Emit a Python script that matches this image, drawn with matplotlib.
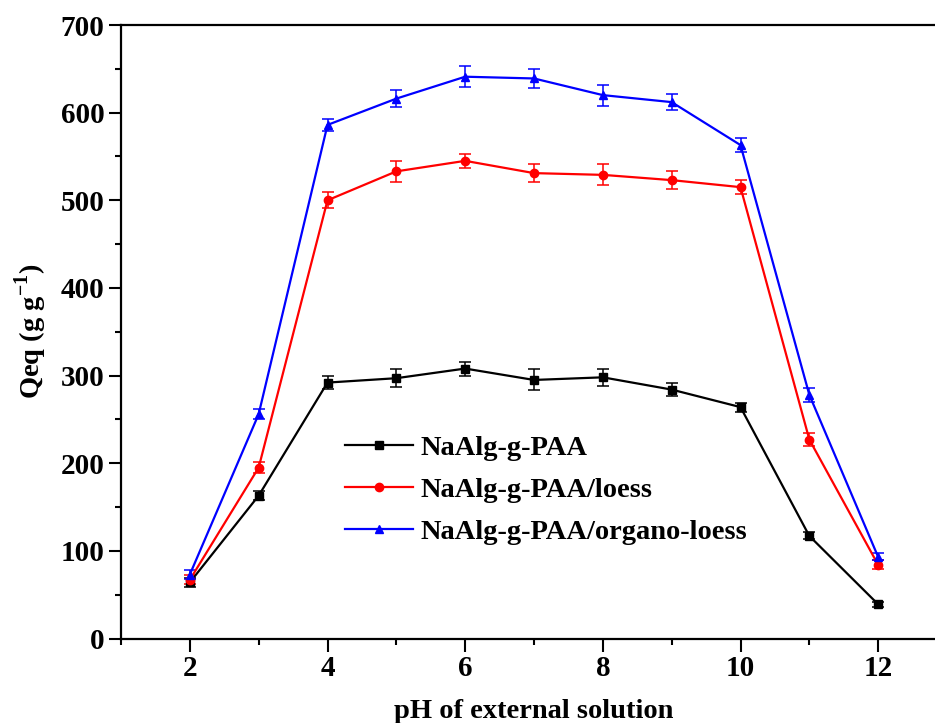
import numpy as np
import matplotlib.pyplot as plt
from matplotlib.lines import Line2D
from matplotlib.ticker import MultipleLocator

# values
ph = [2, 3, 4, 5, 6, 7, 8, 9, 10, 11, 12]
paa = [64, 163, 292, 297, 308, 295, 298, 284, 264, 117, 39]
paa_err = [5, 5, 7, 10, 8, 12, 10, 7, 5, 4, 3]
loess = [67, 195, 500, 533, 545, 531, 529, 523, 515, 227, 84]
loess_err = [5, 6, 9, 12, 8, 10, 12, 10, 8, 7, 5]
organo = [73, 256, 586, 616, 641, 639, 620, 612, 563, 278, 93]
organo_err = [5, 6, 7, 10, 12, 11, 12, 9, 8, 8, 4]

labels = ['NaAlg-g-PAA', 'NaAlg-g-PAA/loess', 'NaAlg-g-PAA/organo-loess']
colors = ['black', 'red', 'blue']
markers = ['s', 'o', '^']

plt.rcParams['font.family'] = 'Liberation Serif'
plt.rcParams['font.weight'] = 'bold'
plt.rcParams['mathtext.fontset'] = 'custom'
plt.rcParams['mathtext.rm'] = 'Liberation Serif:bold'
plt.rcParams['mathtext.bf'] = 'Liberation Serif:bold'

fig = plt.figure(figsize=(9.35, 7.23), dpi=100)
ax = fig.add_axes([121 / 935, 1 - 638.5 / 723, (947 - 121) / 935, (638.5 - 25) / 723])

handles = []
for y, err, c, m in zip([paa, loess, organo], [paa_err, loess_err, organo_err],
                        colors, markers):
    ax.errorbar(ph, y, yerr=err, color=c, marker=m, markersize=6, linewidth=1.6,
                elinewidth=1.1, capsize=4, capthick=1.1)
    handles.append(Line2D([], [], color=c, marker=m, markersize=6, linewidth=1.6))

ax.set_xlim(1, 13)
ax.set_ylim(0, 700)
ax.xaxis.set_major_locator(MultipleLocator(2))
ax.xaxis.set_minor_locator(MultipleLocator(1))
ax.yaxis.set_major_locator(MultipleLocator(100))
ax.yaxis.set_minor_locator(MultipleLocator(50))
ax.tick_params(which='major', direction='out', length=9, width=1.5, labelsize=21, pad=3)
ax.tick_params(which='minor', direction='out', length=4.5, width=1.5)
for s in ax.spines.values():
    s.set_linewidth(1.6)

ax.set_xlabel('pH of external solution', fontsize=20.5, fontweight='bold', labelpad=12)
ax.set_ylabel('Qeq (g g$^{-1}$)', fontsize=20.5, fontweight='bold', labelpad=8)

ax.legend(handles, labels, loc='center left', bbox_to_anchor=(345 / 935, 1 - 490 / 723),
          bbox_transform=fig.transFigure, frameon=False, fontsize=20.5,
          borderpad=0, borderaxespad=0, handlelength=2.4, handletextpad=0.25,
          labelspacing=0.55)

fig.savefig('out.png', dpi=100)
